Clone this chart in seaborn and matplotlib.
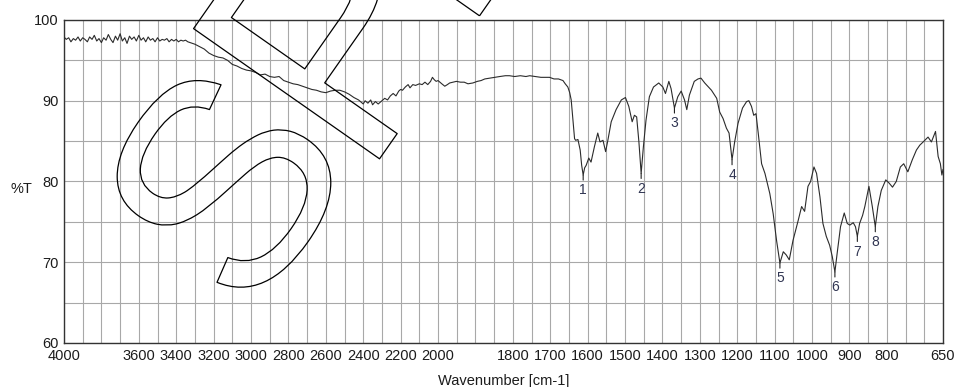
import numpy as np
import pandas as pd
import matplotlib
matplotlib.use("Agg")
import matplotlib.pyplot as plt
import matplotlib.transforms as mtransforms
import matplotlib.patheffects as pe
from matplotlib import font_manager
from matplotlib.ticker import FixedLocator, NullFormatter
import seaborn as sns

# ---------------- data ----------------
wavenumber = [
    4000, 3988, 3975, 3963, 3950, 3938, 3925, 3913, 3900, 3888, 3875, 3863, 3850, 3838, 3825, 3813,
    3800, 3788, 3775, 3763, 3750, 3738, 3725, 3713, 3700, 3688, 3675, 3663, 3650, 3638, 3625, 3613,
    3600, 3588, 3575, 3563, 3550, 3538, 3525, 3513, 3500, 3488, 3475, 3463, 3450, 3438, 3425, 3413,
    3400, 3388, 3375, 3363, 3350, 3338, 3325, 3313, 3300, 3275, 3250, 3225,
    3200, 3175, 3150, 3125, 3100, 3075, 3050, 3025, 3000, 2975, 2950, 2925, 2900, 2875, 2850, 2825,
    2800, 2775, 2750, 2725, 2700, 2675, 2650, 2625, 2600, 2575, 2550, 2525, 2500, 2475, 2450, 2425,
    2400, 2390, 2375, 2360, 2350, 2335, 2320, 2300, 2285, 2270, 2255, 2240, 2225, 2210, 2200, 2190,
    2175, 2160, 2150, 2135, 2120, 2100, 2085, 2070, 2055, 2040, 2030, 2020, 2010, 2000,
    1990, 1982, 1975, 1969, 1960, 1951, 1940, 1930, 1920, 1907, 1895, 1885, 1875, 1862, 1850, 1835,
    1820, 1809, 1795, 1780, 1765, 1755, 1740, 1725, 1712, 1702, 1690, 1678, 1666, 1660, 1653, 1648,
    1644, 1641, 1638, 1635, 1632, 1626, 1620, 1616, 1612, 1608, 1604, 1597, 1591, 1582, 1573, 1567,
    1559, 1552, 1546, 1537, 1524, 1510, 1499, 1490, 1481, 1475, 1469, 1463, 1457, 1451, 1444, 1435,
    1424, 1410, 1399, 1392, 1383, 1377, 1368, 1359, 1350, 1341, 1335, 1328, 1315, 1305, 1297, 1287,
    1269, 1255, 1247, 1238, 1229, 1222, 1214, 1207, 1198, 1186, 1175, 1169, 1162, 1156, 1150, 1144,
    1135, 1126, 1113, 1104, 1095, 1086, 1077, 1069, 1061, 1051, 1037, 1028, 1020, 1011, 1004, 995,
    988, 979, 971, 962, 953, 946, 939, 933, 924, 914, 906, 899, 890, 884, 879, 873,
    865, 859, 848, 839, 831, 824, 815, 803, 794, 785, 775, 764, 755, 744, 732, 721,
    712, 703, 690, 681, 670, 663, 657, 653, 650,
]
transmittance = [
    97.9, 97.6, 97.8, 97.3, 97.7, 97.5, 97.9, 97.4, 97.8, 97.6, 97.3, 97.9, 97.6, 98.1, 97.4, 97.7,
    97.2, 97.8, 97.5, 98.2, 97.6, 97.2, 98.0, 97.5, 98.3, 97.4, 97.8, 97.1, 98.0, 97.6, 97.9, 97.4,
    98.1, 97.5, 97.8, 97.3, 97.9, 97.5, 97.7, 97.3, 97.8, 97.4, 97.6, 97.5, 97.7, 97.3, 97.6, 97.4,
    97.6, 97.3, 97.5, 97.4, 97.5, 97.3, 97.2, 97.1, 97.0, 96.7, 96.4, 95.9,
    95.6, 95.4, 95.3, 95.0, 94.5, 94.3, 94.0, 93.8, 93.7, 93.5, 93.2, 93.3, 93.0, 92.9, 93.0, 92.5,
    92.3, 92.1, 92.0, 91.8, 91.6, 91.4, 91.3, 91.1, 91.0, 91.2, 91.3, 91.3, 91.1, 90.8, 90.4, 90.1,
    89.6, 90.0, 89.7, 90.1, 89.5, 89.9, 89.6, 90.0, 90.3, 90.1, 90.6, 90.9, 90.6, 91.2, 91.4, 91.3,
    91.7, 92.0, 91.6, 92.0, 91.9, 92.1, 92.0, 92.3, 92.0, 92.4, 92.9, 92.6, 92.4, 92.5,
    92.1, 91.8, 92.0, 92.2, 92.3, 92.4, 92.3, 92.3, 92.1, 92.2, 92.4, 92.5, 92.7, 92.8, 92.9, 93.0,
    93.1, 93.1, 93.0, 93.1, 93.0, 93.1, 93.0, 92.9, 92.9, 92.9, 92.7, 92.7, 92.5, 92.1, 91.7, 91.0,
    90.1, 88.5, 86.8, 85.3, 85.1, 85.2, 83.9, 82.0, 80.8, 81.7, 82.0, 82.9, 82.4, 84.3, 86.0, 84.9,
    85.1, 83.7, 85.1, 87.4, 88.9, 90.1, 90.4, 89.3, 87.4, 88.2, 88.0, 84.9, 81.0, 84.3, 87.6, 90.5,
    91.7, 92.2, 91.7, 90.9, 92.4, 91.5, 89.1, 90.5, 91.2, 90.1, 88.9, 90.7, 92.4, 92.7, 92.8, 92.2,
    91.3, 90.3, 88.6, 87.8, 86.6, 86.0, 82.7, 84.9, 87.2, 89.1, 89.9, 90.0, 89.3, 88.2, 88.4, 86.0,
    82.2, 81.0, 78.5, 76.0, 72.7, 69.9, 71.3, 70.9, 70.3, 72.7, 75.2, 76.9, 76.3, 79.4, 80.0, 81.8,
    81.0, 78.1, 74.8, 73.2, 72.1, 70.7, 68.8, 71.1, 74.4, 76.1, 74.8, 74.6, 74.9, 74.4, 73.2, 74.8,
    75.8, 76.9, 79.4, 76.9, 74.4, 76.9, 78.9, 80.2, 79.8, 79.3, 80.0, 81.8, 82.2, 81.2, 82.7, 83.9,
    84.5, 84.9, 85.5, 84.9, 86.2, 83.1, 82.2, 80.8, 81.5,
]

peak_wavenumber = [1612, 1457, 1368, 1214, 1086, 939, 879, 831]
peak_label = ["1", "2", "3", "4", "5", "6", "7", "8"]

x_tick_values = [4000, 3600, 3400, 3200, 3000, 2800, 2600, 2400, 2200, 2000,
                 1800, 1700, 1600, 1500, 1400, 1300, 1200, 1100, 1000, 900, 800, 650]
x_grid_values = list(range(4000, 2000, -100)) + list(range(2000, 649, -50))
y_tick_values = [60, 70, 80, 90, 100]
y_grid_values = [65, 75, 85, 95]

watermark_parts = ["S", "P", "ECIMEN"]

df = pd.DataFrame({"Wavenumber": wavenumber, "T": transmittance})

# ---------------- style ----------------
sns.set_theme(style="white")
plt.rcParams["font.family"] = ["Liberation Sans", "DejaVu Sans"]

W, H = 956, 387
fig = plt.figure(figsize=(W / 100, H / 100), dpi=100)
ax = fig.add_axes([64 / W, (H - 343) / H, (943 - 64) / W, (343 - 20) / H])


def fwd(w):
    w = np.asarray(w, dtype=float)
    return np.where(w >= 2000, w, 2 * w - 2000)


def inv(t):
    t = np.asarray(t, dtype=float)
    return np.where(t >= 2000, t, (t + 2000) / 2)


ax.set_xscale("function", functions=(fwd, inv))

sns.lineplot(data=df, x="Wavenumber", y="T", ax=ax, color="#2b2b2b",
             linewidth=0.8, estimator=None, sort=False, zorder=3)

ax.set_xlim(4000, 650)
ax.set_ylim(60, 100)

ax.xaxis.set_major_locator(FixedLocator(x_tick_values))
ax.set_xticklabels([str(v) for v in x_tick_values])
ax.xaxis.set_minor_locator(FixedLocator(x_grid_values))
ax.xaxis.set_minor_formatter(NullFormatter())
ax.yaxis.set_major_locator(FixedLocator(y_tick_values))
ax.yaxis.set_minor_locator(FixedLocator(y_grid_values))
ax.yaxis.set_minor_formatter(NullFormatter())

ax.grid(True, which="both", color="#a8a8a8", linewidth=0.8)
ax.tick_params(which="both", direction="in", length=5, width=0.8, color="#333333",
               labelsize=10.5, labelcolor="#1c1c1c", pad=4)
for s in ax.spines.values():
    s.set_color("#333333")
    s.set_linewidth(1.0)

ax.set_xlabel("Wavenumber [cm-1]", fontsize=10.5, color="#1c1c1c", labelpad=8)
ax.set_ylabel("%T", fontsize=10.5, color="#1c1c1c", rotation=0, ha="left", va="center")
ax.yaxis.set_label_coords(-0.061, 0.476)

# peak markers
wn_arr = np.array(wavenumber)
t_arr = np.array(transmittance)
for w, lab in zip(peak_wavenumber, peak_label):
    t = t_arr[np.argmin(np.abs(wn_arr - w))]
    ax.annotate(lab, xy=(w, t), xytext=(0, -6), textcoords="offset points",
                ha="center", va="top", fontsize=10, color="#303552",
                arrowprops=dict(arrowstyle="-", color="#202020", lw=0.8,
                                shrinkA=0, shrinkB=0), zorder=4)

# outlined watermark text (condensed sans if available)
try:
    font_manager.findfont("Liberation Sans Narrow", fallback_to_default=False)
    wm_family, k = "Liberation Sans Narrow", 1.0
except Exception:
    wm_family, k = "Liberation Sans", 0.88

wm_pos = [(249, H - 321), (364, H - 181), (464, H - 38)]
wm_size = [240 * k, 270 * k, 270 * k]
for part, (px, py), fs in zip(watermark_parts, wm_pos, wm_size):
    fig.text(px, py, part, transform=mtransforms.IdentityTransform(),
             fontsize=fs, rotation=55, rotation_mode="anchor", ha="left", va="baseline",
             color="none", family=wm_family,
             path_effects=[pe.Stroke(linewidth=0.9, foreground="black")], zorder=5)

fig.savefig("out.png", dpi=100)
